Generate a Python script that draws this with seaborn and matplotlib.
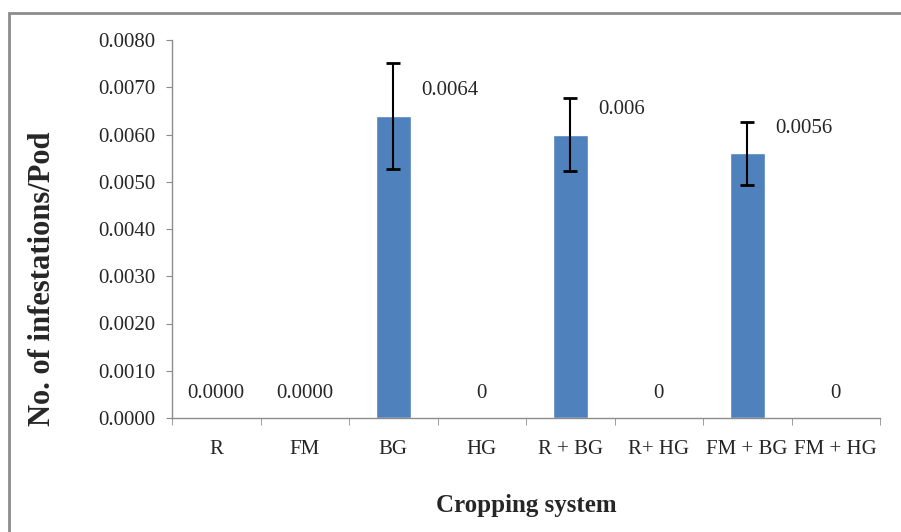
import matplotlib
matplotlib.use("Agg")
import matplotlib.pyplot as plt
import seaborn as sns
import pandas as pd
import numpy as np
from matplotlib.patches import Rectangle
from matplotlib.ticker import FixedLocator, FormatStrFormatter

categories = ["R", "FM", "BG", "HG", "R + BG", "R+ HG", "FM + BG", "FM + HG"]
values = [0.0, 0.0, 0.0064, 0.0, 0.0060, 0.0, 0.0056, 0.0]
errors = [0.0, 0.0, 0.00112, 0.0, 0.00078, 0.0, 0.00067, 0.0]
value_labels = ["0.0000", "0.0000", "0.0064", "0", "0.006", "0", "0.0056", "0"]
y_ticks = [0.0, 0.001, 0.002, 0.003, 0.004, 0.005, 0.006, 0.007, 0.008]

sns.set_style("white")
plt.rcParams['font.family'] = ['Liberation Serif', 'DejaVu Serif']

df = pd.DataFrame({"cat": categories, "val": values})

fig = plt.figure(figsize=(9.01, 5.32), dpi=100)
ax = fig.add_axes([172/901, 1-418/532, (880-172)/901, (418-40)/532])

sns.barplot(data=df, x="cat", y="val", color="#4F81BD", width=0.4,
            saturation=1, ax=ax, errorbar=None)

xs = np.arange(len(categories))
err_idx = [i for i, e in enumerate(errors) if e > 0]
ax.errorbar([xs[i] for i in err_idx], [values[i] for i in err_idx],
            yerr=[errors[i] for i in err_idx], fmt="none", ecolor="black",
            elinewidth=1.5, capsize=5, capthick=2)

for i, (v, lab) in enumerate(zip(values, value_labels)):
    if v > 0:
        ax.annotate(lab, (xs[i], v), xytext=(20, 18), textcoords="offset points",
                    ha="left", va="center", fontsize=15)
    else:
        ax.annotate(lab, (xs[i], v), xytext=(0, 18), textcoords="offset points",
                    ha="center", va="center", fontsize=15)

ax.set_xlim(-0.5, len(categories) - 0.5)
ax.set_ylim(0, 0.008)
ax.yaxis.set_major_locator(FixedLocator(y_ticks))
ax.yaxis.set_major_formatter(FormatStrFormatter("%.4f"))
ax.xaxis.set_minor_locator(FixedLocator(np.arange(-0.5, len(categories), 1.0)))

axis_color = "#8C8C8C"
for s in ["top", "right"]:
    ax.spines[s].set_visible(False)
for s in ["left", "bottom"]:
    ax.spines[s].set_color(axis_color)
    ax.spines[s].set_linewidth(1.0)

ax.tick_params(axis="x", which="major", length=0, pad=16, labelsize=15)
ax.tick_params(axis="x", which="minor", length=5, color=axis_color, direction="out", bottom=True)
ax.tick_params(axis="y", which="major", length=4, color=axis_color, direction="out", left=True,
               pad=8, labelsize=15)

ax.set_xlabel("Cropping system", fontsize=18, fontweight="bold", labelpad=25)
ax.set_ylabel("No. of infestations/Pod", fontsize=22, fontweight="bold")
ax.yaxis.set_label_coords((57 - 172) / 708, (418 - 279) / 378)

fig.patches.append(Rectangle((9/901, -0.05), 1.2, 1 - 13/532 + 0.05, transform=fig.transFigure,
                             fill=False, edgecolor="#8C8C8C", linewidth=2, zorder=0))

fig.savefig("out.png", dpi=100)
